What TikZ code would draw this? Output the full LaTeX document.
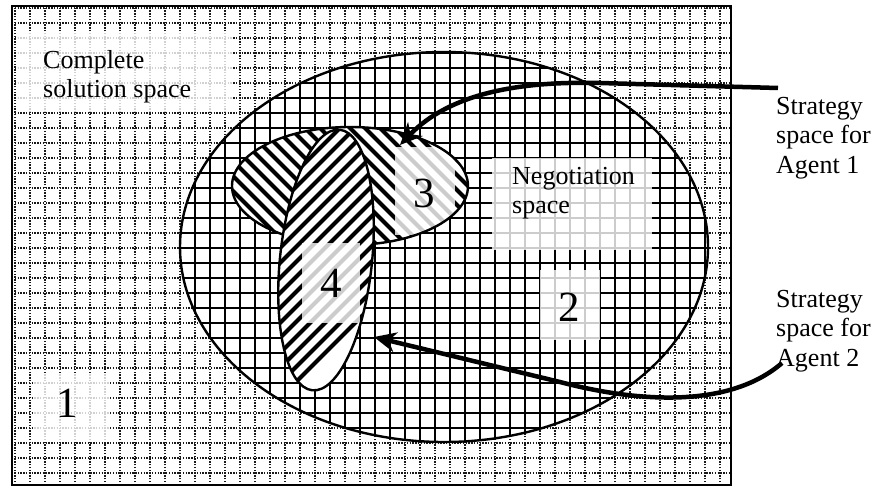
\documentclass[tikz,border=0pt]{standalone}
\usepackage{fontspec}
\setmainfont{Liberation Serif}
\usetikzlibrary{arrows.meta}
\begin{document}
\begin{tikzpicture}[x=1pt,y=1pt,
  dotgrid/.style={black!90, line width=1.4pt, dash pattern=on 1.4pt off 1.4pt},
  solidgrid/.style={black, line width=2.1pt},
  outline/.style={black, line width=2.4pt},
  hatch/.style={black, line width=4.2pt},
  lightbox/.style={white, opacity=0.8},
  lab/.style={font=\fontsize{26}{29.5}\selectfont, align=left, inner sep=0pt, anchor=north west},
  num/.style={font=\fontsize{43}{43}\selectfont, inner sep=0pt},
  bigarrow/.style={line width=4.5pt, -{Stealth[length=22pt,width=20pt,inset=7pt]}}]

\useasboundingbox (0,0) rectangle (877,488);
\fill[white] (0,0) rectangle (877,488);

% background dotted grid
\draw[dotgrid, step=15pt] (12,3) grid (731,482);
\draw[black, line width=1.8pt] (12,3) rectangle (731,482);

% negotiation space (big ellipse) with solid grid
\fill[white] (444,241) ellipse (264 and 195);
\begin{scope}
  \clip (444,241) ellipse (264 and 195);
  \draw[solidgrid, step=15pt] (170,40) grid (720,450);
\end{scope}

% light label boxes
\fill[lightbox] (18,376) rectangle (232,456);
\fill[lightbox] (492,238) rectangle (652,330);
\fill[lightbox] (33,48) rectangle (110,115);
\fill[lightbox] (540,148) rectangle (600,218);

\draw[outline] (444,241) ellipse (264 and 195);

% strategy space agent 1
\fill[white] (350,302) ellipse (118 and 59);
\begin{scope}
  \clip (350,302) ellipse (118 and 59);
  \foreach \i in {0,...,28} \draw[hatch] (80+15*\i,420) -- ++(200,-200);
  \fill[lightbox] (395,253) rectangle (455,341);
\end{scope}
\draw[outline] (350,302) ellipse (118 and 59);

% strategy space agent 2
\fill[white, rotate around={-6:(326,228)}] (326,228) ellipse (46 and 131);
\begin{scope}
  \clip[rotate around={-6:(326,228)}] (326,228) ellipse (46 and 131);
  \foreach \i in {0,...,14} \draw[hatch] (60+15*\i,80) -- ++(300,300);
  \fill[lightbox] (302,165) rectangle (360,245);
\end{scope}
\draw[outline, rotate around={-6:(326,228)}] (326,228) ellipse (46 and 131);

% texts
\node[lab] (tcomplete) at (43,438) {Complete\\solution space};
\node[lab] (tneg) at (512,321) {Negotiation\\space};
\node[lab] (tag1) at (776,391) {Strategy\\space for\\Agent 1};
\node[lab] (tag2) at (776,198) {Strategy\\space for\\Agent 2};
\node[num] (n1) at (67,85) {1};
\node[num] (n2) at (569,181) {2};
\node[num] (n3) at (424,295) {3};
\node[num] (n4) at (331,205) {4};

% arrows
\coordinate (s1) at (778,400);
\coordinate (t1) at (400,343);
\draw[bigarrow] (s1) -- (600,405) .. controls (520,407) and (450,395) .. (t1);
\coordinate (s2) at (782,125);
\coordinate (t2) at (374,151);
\draw[bigarrow] (s2) .. controls (730,80) and (640,85) .. (560,106) -- (t2);
\end{tikzpicture}
\end{document}
